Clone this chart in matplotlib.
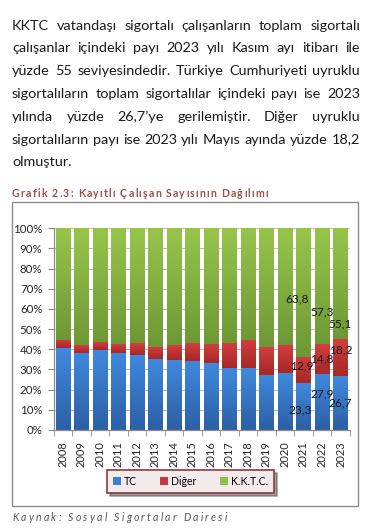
import matplotlib
matplotlib.use("Agg")
import matplotlib.pyplot as plt
import numpy as np
from matplotlib.colors import LinearSegmentedColormap
from matplotlib.patches import Rectangle, Patch

# ---------------- data ----------------
years = ["2008", "2009", "2010", "2011", "2012", "2013", "2014", "2015",
         "2016", "2017", "2018", "2019", "2020", "2021", "2022", "2023"]
tc = [40.5, 38.3, 39.7, 38.3, 37.2, 35.2, 34.7, 34.2,
      33.4, 30.6, 30.6, 27.3, 28.1, 23.3, 27.9, 26.7]
diger = [4.1, 3.8, 3.8, 4.3, 5.8, 6.1, 7.3, 8.8,
         9.2, 12.4, 14.0, 13.7, 14.0, 12.9, 14.8, 18.2]
kktc = [55.4, 57.9, 56.5, 57.4, 57.0, 58.7, 58.0, 57.0,
        57.4, 57.0, 55.4, 59.0, 57.9, 63.8, 57.3, 55.1]
series_names = ["TC", "Diğer", "K.K.T.C."]
yticks = [0, 10, 20, 30, 40, 50, 60, 70, 80, 90, 100]
labelled_years = ["2021", "2022", "2023"]

paragraph = [
    "KKTC vatandaşı sigortalı çalışanların toplam sigortalı",
    "çalışanlar içindeki payı 2023 yılı Kasım ayı itibarı ile",
    "yüzde 55 seviyesindedir. Türkiye Cumhuriyeti uyruklu",
    "sigortalıların toplam sigortalılar içindeki payı ise 2023",
    "yılında yüzde 26,7’ye gerilemiştir. Diğer uyruklu",
    "sigortalıların payı ise 2023 yılı Mayıs ayında yüzde 18,2",
    "olmuştur.",
]
title = "Grafik 2.3: Kayıtlı Çalışan Sayısının Dağılımı"
source = "Kaynak: Sosyal Sigortalar Dairesi"

# ---------------- style ----------------
W, H = 386, 532
FONT = ["Lato", "DejaVu Sans"]
plt.rcParams["font.family"] = FONT
fig = plt.figure(figsize=(W / 100, H / 100), dpi=100)
fig.patch.set_facecolor("white")
renderer = fig.canvas.get_renderer()


def fx(x):
    return x / W


def fy(y):
    return 1 - y / H


def tw(s, **kw):
    t = fig.text(0, 0, s, **kw)
    w = t.get_window_extent(renderer).width
    t.remove()
    return w


def justify(line, x0, x1, y, last=False, **kw):
    words = line.split()
    if last or len(words) == 1:
        fig.text(fx(x0), fy(y), line, va="baseline", ha="left", **kw)
        return
    ws = [tw(w, **kw) for w in words]
    gap = (x1 - x0 - sum(ws)) / (len(words) - 1)
    x = x0
    for w, wd in zip(words, ws):
        fig.text(fx(x), fy(y), w, va="baseline", ha="left", **kw)
        x += wd + gap


def tracked(s, x0, x1, y, **kw):
    sp = tw("a a", **kw) - tw("aa", **kw)
    ws = [sp if c == " " else tw(c, **kw) for c in s]
    track = (x1 - x0 - sum(ws)) / (len(s) - 1)
    x = x0
    for c, wd in zip(s, ws):
        if c != " ":
            fig.text(fx(x), fy(y), c, va="baseline", ha="left", **kw)
        x += wd + track


# paragraph
pkw = dict(fontsize=10.4, color="#1a1a1a")
for i, line in enumerate(paragraph):
    justify(line, 12, 360, 29.5 + i * 22.8, last=(i == len(paragraph) - 1), **pkw)

# title and source
tracked(title, 12, 268, 197, fontsize=7.6, fontweight="bold", color="#a0504c")
tracked(source, 12, 227, 521, fontsize=7.6, fontstyle="italic", color="#595959")

# chart frame
fig.patches.append(Rectangle((fx(12), fy(506)), fx(358) - fx(12), fy(202) - fy(506),
                             transform=fig.transFigure, fill=False,
                             edgecolor="#8c8c8c", linewidth=1.0, zorder=0))

# ---------------- chart ----------------
ax = fig.add_axes([fx(53.5), fy(430), fx(349.8) - fx(53.5), fy(228.3) - fy(430)])
x = np.arange(len(years))
bw = 0.78
mid_cols = ["#3a7ccc", "#c03434", "#86b640"]
grads = [("#2c5fa5", "#4089de"), ("#a62828", "#d43e3e"), ("#6e9835", "#97c54b")]

b1 = ax.bar(x, tc, bw, color=mid_cols[0], zorder=2, label=series_names[0])
b2 = ax.bar(x, diger, bw, bottom=tc, color=mid_cols[1], zorder=2, label=series_names[1])
bot3 = [a + b for a, b in zip(tc, diger)]
b3 = ax.bar(x, kktc, bw, bottom=bot3, color=mid_cols[2], zorder=2, label=series_names[2])

grad = np.linspace(0, 1, 128).reshape(-1, 1)
for bars, (cb, ct) in zip([b1, b2, b3], grads):
    cmap = LinearSegmentedColormap.from_list("g", [cb, ct])
    for p in bars:
        im = ax.imshow(grad, cmap=cmap, origin="lower", aspect="auto",
                       extent=[p.get_x(), p.get_x() + p.get_width(),
                               p.get_y(), p.get_y() + p.get_height()],
                       zorder=3, interpolation="bilinear")
        im.set_clip_path(p)

ax.set_xlim(-0.5, len(years) - 0.5)
ax.set_ylim(0, 100)
ax.set_yticks(yticks)
ax.set_yticklabels([f"{v}%" for v in yticks])
ax.set_xticks(x)
ax.set_xticklabels(years, rotation=90)
ax.set_xticks(np.arange(-0.5, len(years), 1), minor=True)
ax.tick_params(axis="x", which="major", length=0, pad=8, labelsize=8, labelcolor="#262626")
ax.tick_params(axis="x", which="minor", length=4, color="#8c8c8c", direction="out")
ax.tick_params(axis="y", which="major", length=4, color="#8c8c8c", pad=4,
               labelsize=8.3, labelcolor="#262626")
for s in ["top", "right"]:
    ax.spines[s].set_visible(False)
for s in ["left", "bottom"]:
    ax.spines[s].set_color("#8c8c8c")
    ax.spines[s].set_linewidth(0.9)
    ax.spines[s].set_zorder(4)
ax.yaxis.grid(True, color="#bfbfbf", linewidth=0.8, zorder=1)
ax.set_axisbelow(True)
ax.patch.set_alpha(0)

# data labels (layout offsets: dx in categories, y centre in %)
label_layout = {
    0: [(-0.2, 9.9), (0.0, 17.8), (0.0, 13.2)],
    1: [(-0.1, 31.9), (0.0, 35.0), (0.0, 39.7)],
    2: [(-0.35, 65.0), (0.0, 58.3), (0.0, 52.4)],
}
for si, vals in enumerate([tc, diger, kktc]):
    for k, yr in enumerate(labelled_years):
        i = years.index(yr)
        dx, yc = label_layout[si][k]
        ax.text(i + dx, yc, f"{vals[i]:.1f}".replace(".", ","), ha="center", va="center",
                fontsize=8.6, color="#1a1a1a", zorder=6)

# legend
handles = [Patch(facecolor=c, edgecolor="none") for c in ["#3d80d2", "#c63838", "#8dc046"]]
leg = fig.legend(handles, series_names, loc="center",
                 bbox_to_anchor=(fx(190.5), fy(481.5)), ncol=3, fontsize=7.6,
                 handlelength=0.75, handleheight=0.75, handletextpad=0.3,
                 columnspacing=2.2, borderpad=0.55, fancybox=False, shadow=True,
                 edgecolor="#8b3a3a", facecolor="#f3ebeb", framealpha=1)
leg.get_frame().set_linewidth(1.2)

fig.savefig("out.png", dpi=100)
